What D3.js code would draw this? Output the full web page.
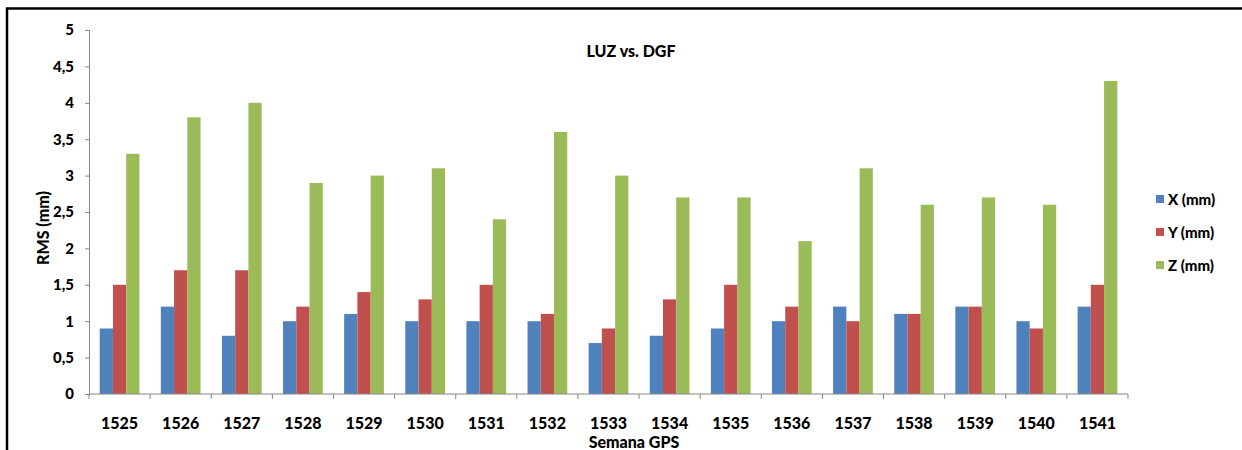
<!DOCTYPE html>
<html>
<head>
<meta charset="utf-8">
<script src="https://cdn.jsdelivr.net/npm/d3@7"></script>
<style>
  html, body { margin: 0; padding: 0; background: #fff; }
  svg { display: block; font-family: Lato, "Open Sans", sans-serif; }
  text { font-weight: 900; fill: #000; }
</style>
</head>
<body>
<svg id="chart" width="1242" height="450"></svg>
<script>
// GPS weeks
const weeks = ["1525","1526","1527","1528","1529","1530","1531","1532","1533","1534","1535","1536","1537","1538","1539","1540","1541"];
// RMS per component (mm)
const xRms = [0.9,1.2,0.8,1.0,1.1,1.0,1.0,1.0,0.7,0.8,0.9,1.0,1.2,1.1,1.2,1.0,1.2];
const yRms = [1.5,1.7,1.7,1.2,1.4,1.3,1.5,1.1,0.9,1.3,1.5,1.2,1.0,1.1,1.2,0.9,1.5];
const zRms = [3.3,3.8,4.0,2.9,3.0,3.1,2.4,3.6,3.0,2.7,2.7,2.1,3.1,2.6,2.7,2.6,4.3];
const seriesNames = ["X (mm)","Y (mm)","Z (mm)"];
const seriesColors = ["#4F81BD","#C0504D","#9BBB59"];
const yTicks = [0,0.5,1,1.5,2,2.5,3,3.5,4,4.5,5];

const series = [xRms, yRms, zRms];
const svg = d3.select("#chart");
const plot = { left: 89, right: 1128, top: 30, bottom: 394 };

// outer frame (top and left edges)
svg.append("path")
  .attr("d", "M7,450 V8.5 H1242")
  .attr("fill", "none").attr("stroke", "#000").attr("stroke-width", 2.5);

const x0 = d3.scaleBand().domain(weeks).range([plot.left, plot.right])
  .paddingInner(0.35).paddingOuter(0.175);
const x1 = d3.scaleBand().domain(d3.range(series.length)).range([0, x0.bandwidth()]);
const y = d3.scaleLinear().domain([0, 5]).range([plot.bottom, plot.top]);

const fmt = v => String(v).replace(".", ",");

// y axis
const yAxis = svg.append("g").attr("transform", `translate(${plot.left},0)`)
  .call(d3.axisLeft(y).tickValues(yTicks).tickFormat(fmt).tickSize(4).tickPadding(11));
yAxis.select(".domain").attr("stroke", "#868686");
yAxis.selectAll(".tick line").attr("stroke", "#868686");
yAxis.selectAll("text").attr("font-size", 15).attr("font-family", "Lato, sans-serif");

// bars
const groups = svg.append("g").selectAll("g").data(weeks).join("g")
  .attr("transform", d => `translate(${x0(d)},0)`);
groups.selectAll("rect")
  .data((d, i) => series.map((s, k) => ({ k, v: s[i] })))
  .join("rect")
  .attr("x", d => x1(d.k))
  .attr("width", x1.bandwidth())
  .attr("y", d => y(d.v))
  .attr("height", d => y(0) - y(d.v))
  .attr("fill", d => seriesColors[d.k]);

// x axis with ticks between categories
const xAxisG = svg.append("g").attr("transform", `translate(0,${plot.bottom})`);
xAxisG.append("line").attr("x1", plot.left).attr("x2", plot.right)
  .attr("stroke", "#868686").attr("stroke-width", 1);
const boundaries = weeks.map(w => x0(w) - x0.step() * x0.paddingInner() / 2).concat([plot.right]);
xAxisG.selectAll("line.tk").data(boundaries).join("line").attr("class", "tk")
  .attr("x1", d => d).attr("x2", d => d).attr("y1", 0).attr("y2", 5)
  .attr("stroke", "#868686");
xAxisG.selectAll("text").data(weeks).join("text")
  .attr("x", d => x0(d) + x0.bandwidth() / 2)
  .attr("y", 35)
  .attr("text-anchor", "middle")
  .attr("font-size", 16)
  .text(d => d);

// titles
svg.append("text").attr("x", 631).attr("y", 57).attr("text-anchor", "middle")
  .attr("font-size", 16).text("LUZ vs. DGF");
svg.append("text").attr("x", 634).attr("y", 448).attr("text-anchor", "middle")
  .attr("font-size", 16).text("Semana GPS");
svg.append("text").attr("transform", "translate(49,228) rotate(-90)")
  .attr("text-anchor", "middle")
  .attr("font-size", 16).text("RMS (mm)");

// legend
const legend = svg.append("g").selectAll("g").data(seriesNames).join("g")
  .attr("transform", (d, i) => `translate(1156,${199 + i * 33})`);
legend.append("rect").attr("x", 0).attr("y", -4).attr("width", 8).attr("height", 8)
  .attr("fill", (d, i) => seriesColors[i]);
legend.append("text").attr("x", 12).attr("y", 5.5)
  .attr("font-size", 15).text(d => d);
</script>
</body>
</html>
